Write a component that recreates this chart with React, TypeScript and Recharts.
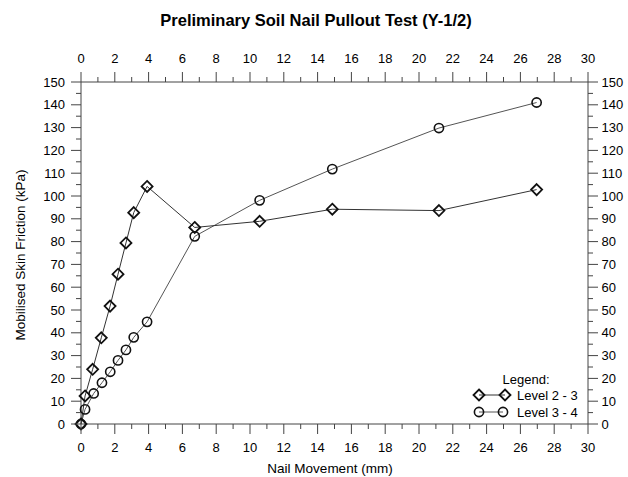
import { LineChart, Line, XAxis, YAxis } from "recharts";

// Nail movement (mm) / mobilised skin friction (kPa)
const level23Movement = [0, 0.24, 0.69, 1.2, 1.72, 2.19, 2.66, 3.12, 3.91, 6.73, 10.57, 14.87, 21.18, 26.96];
const level23Friction = [0, 12.3, 24, 37.8, 51.7, 65.7, 79.4, 92.7, 104.2, 86.2, 88.9, 94.2, 93.6, 102.8];

const level34Movement = [0, 0.24, 0.75, 1.24, 1.73, 2.19, 2.66, 3.12, 3.91, 6.73, 10.57, 14.87, 21.18, 26.96];
const level34Friction = [0, 6.4, 13.4, 18.1, 22.9, 27.9, 32.5, 38, 44.8, 82.3, 98.1, 111.8, 129.8, 141];

const xTicks = [0, 1, 2, 3, 4, 5, 6, 7, 8, 9, 10, 11, 12, 13, 14, 15, 16, 17, 18, 19, 20, 21, 22, 23, 24, 25, 26, 27, 28, 29, 30];
const yTicks = [0, 5, 10, 15, 20, 25, 30, 35, 40, 45, 50, 55, 60, 65, 70, 75, 80, 85, 90, 95, 100, 105, 110, 115, 120, 125, 130, 135, 140, 145, 150];

const level23 = level23Movement.map((x, i) => ({ x, y: level23Friction[i] }));
const level34 = level34Movement.map((x, i) => ({ x, y: level34Friction[i] }));

const AXIS = "#444";
const FONT = "'Liberation Sans', Arial, sans-serif";

function XTick({ x, y, payload, side }: any) {
  const major = payload.value % 2 === 0;
  const dir = side === "top" ? -1 : 1;
  return (
    <g>
      <line x1={x} x2={x} y1={y} y2={y + dir * (major ? 10 : 5)} stroke={AXIS} />
      {major && (
        <text
          x={x}
          y={side === "top" ? y - 19 : y + 27.5}
          textAnchor="middle"
          fontSize={13}
          fontFamily={FONT}
          fill="#000"
        >
          {payload.value}
        </text>
      )}
    </g>
  );
}

function YTick({ x, y, payload, side }: any) {
  const major = payload.value % 10 === 0;
  const dir = side === "left" ? -1 : 1;
  return (
    <g>
      <line x1={x} x2={x + dir * (major ? 10 : 5)} y1={y} y2={y} stroke={AXIS} />
      {major && (
        <text
          x={side === "left" ? x - 16 : x + 13.5}
          y={y + 4.6}
          textAnchor={side === "left" ? "end" : "start"}
          fontSize={13}
          fontFamily={FONT}
          fill="#000"
        >
          {payload.value}
        </text>
      )}
    </g>
  );
}

function Diamond({ cx, cy }: any) {
  const s = 5.5;
  return (
    <polygon
      points={`${cx},${cy - s} ${cx + s},${cy} ${cx},${cy + s} ${cx - s},${cy}`}
      fill="none"
      stroke="#111"
      strokeWidth={1.8}
    />
  );
}

function Circle({ cx, cy }: any) {
  return <circle cx={cx} cy={cy} r={4.6} fill="none" stroke="#111" strokeWidth={1.6} />;
}

export default function App() {
  return (
    <div style={{ position: "absolute", left: 0, top: 0, width: 628, height: 477 }}>
      <LineChart width={628} height={477} margin={{ top: 52, right: 10, bottom: 23, left: 41 }}>
        <XAxis
          xAxisId="bottom"
          orientation="bottom"
          type="number"
          dataKey="x"
          domain={[0, 30]}
          ticks={xTicks}
          interval={0}
          height={30}
          tickSize={0}
          tickMargin={0}
          axisLine={{ stroke: AXIS }}
          tick={(p: any) => <XTick {...p} side="bottom" />}
        />
        <XAxis
          xAxisId="top"
          orientation="top"
          type="number"
          dataKey="x"
          domain={[0, 30]}
          ticks={xTicks}
          interval={0}
          height={30}
          tickSize={0}
          tickMargin={0}
          axisLine={{ stroke: AXIS }}
          tick={(p: any) => <XTick {...p} side="top" />}
        />
        <YAxis
          yAxisId="left"
          orientation="left"
          type="number"
          domain={[0, 150]}
          ticks={yTicks}
          interval={0}
          width={40}
          tickSize={0}
          tickMargin={0}
          axisLine={{ stroke: AXIS }}
          tick={(p: any) => <YTick {...p} side="left" />}
        />
        <YAxis
          yAxisId="right"
          orientation="right"
          type="number"
          domain={[0, 150]}
          ticks={yTicks}
          interval={0}
          width={30}
          tickSize={0}
          tickMargin={0}
          axisLine={{ stroke: AXIS }}
          tick={(p: any) => <YTick {...p} side="right" />}
        />
        {/* invisible series so the top and right axes get drawn */}
        <Line
          data={level34}
          dataKey="y"
          xAxisId="top"
          yAxisId="right"
          stroke="none"
          dot={false}
          activeDot={false}
          isAnimationActive={false}
        />
        <Line
          data={level34}
          dataKey="y"
          xAxisId="bottom"
          yAxisId="left"
          stroke="#555"
          strokeWidth={1}
          isAnimationActive={false}
          activeDot={false}
          dot={(p: any) => <Circle key={`c-${p.index}`} {...p} />}
        />
        <Line
          data={level23}
          dataKey="y"
          xAxisId="bottom"
          yAxisId="left"
          stroke="#333"
          strokeWidth={1}
          isAnimationActive={false}
          activeDot={false}
          dot={(p: any) => <Diamond key={`d-${p.index}`} {...p} />}
        />
      </LineChart>
      <svg
        width={628}
        height={477}
        style={{ position: "absolute", left: 0, top: 0, pointerEvents: "none" }}
        fontFamily={FONT}
      >
        <text x={316} y={26} textAnchor="middle" fontSize={16.5} fontWeight="bold" fill="#000">
          Preliminary Soil Nail Pullout Test (Y-1/2)
        </text>
        <text x={330} y={473} textAnchor="middle" fontSize={13.5} fill="#000">
          Nail Movement (mm)
        </text>
        <text x={25} y={255} textAnchor="middle" fontSize={13.5} fill="#000" transform="rotate(-90 25 255)">
          Mobilised Skin Friction (kPa)
        </text>
        <text x={526} y={383.5} textAnchor="middle" fontSize={13} fill="#000">
          Legend:
        </text>
        <line x1={479} x2={505} y1={395} y2={395} stroke="#333" />
        <Diamond cx={479} cy={395} />
        <Diamond cx={505} cy={395} />
        <text x={517} y={399.6} fontSize={13} fill="#000">
          Level 2 - 3
        </text>
        <line x1={479} x2={503} y1={412} y2={412} stroke="#555" />
        <Circle cx={479} cy={412} />
        <Circle cx={503} cy={412} />
        <text x={517} y={416.6} fontSize={13} fill="#000">
          Level 3 - 4
        </text>
      </svg>
    </div>
  );
}
